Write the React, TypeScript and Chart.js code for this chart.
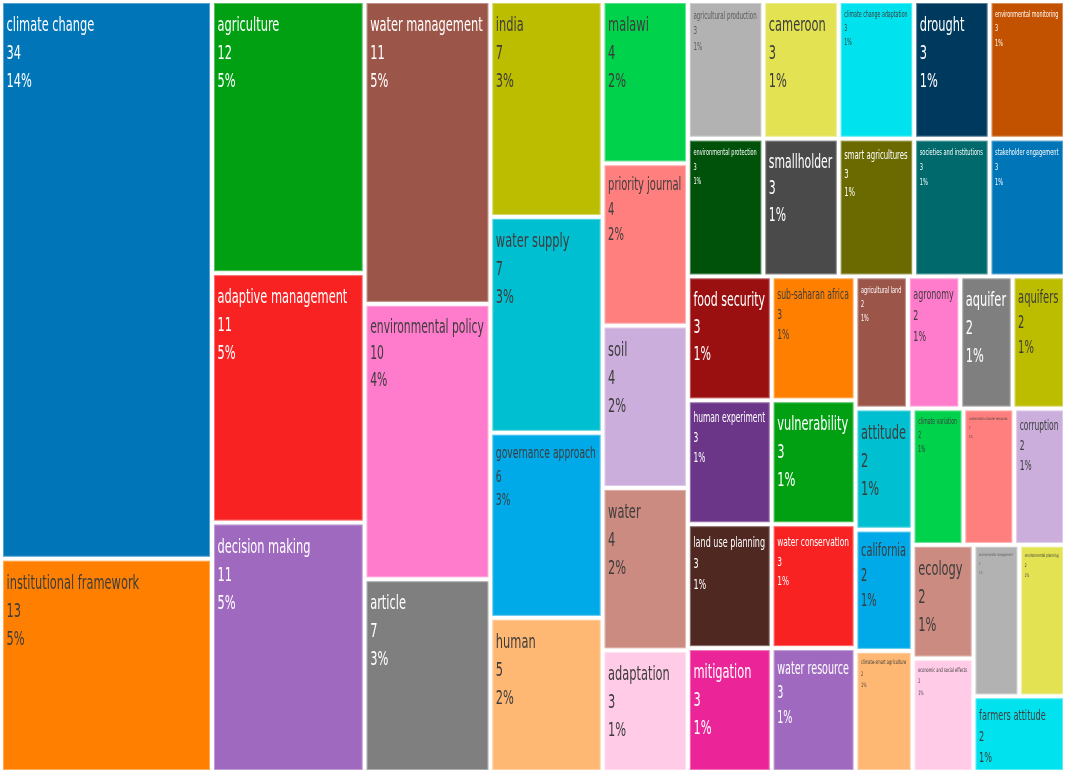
import React, { useEffect, useRef } from "react";
import { Chart, registerables } from "chart.js";

Chart.register(...registerables);

// Keywords, sorted by frequency (desc) then alphabetically
const labels: string[] = [
  "climate change",
  "institutional framework",
  "agriculture",
  "adaptive management",
  "decision making",
  "water management",
  "environmental policy",
  "article",
  "india",
  "water supply",
  "governance approach",
  "human",
  "malawi",
  "priority journal",
  "soil",
  "water",
  "adaptation",
  "agricultural production",
  "cameroon",
  "climate change adaptation",
  "drought",
  "environmental monitoring",
  "environmental protection",
  "food security",
  "human experiment",
  "land use planning",
  "mitigation",
  "smallholder",
  "smart agricultures",
  "societies and institutions",
  "stakeholder engagement",
  "sub-saharan africa",
  "vulnerability",
  "water conservation",
  "water resource",
  "agricultural land",
  "agronomy",
  "aquifer",
  "aquifers",
  "attitude",
  "california",
  "climate-smart agriculture",
  "climate variation",
  "conservation of water resources",
  "corruption",
  "ecology",
  "economic and social effects",
  "environmental management",
  "environmental planning",
  "farmers attitude",
];

const values: number[] = [
  34, 13, 12, 11, 11, 11, 10, 7, 7, 7, 6, 5, 4, 4, 4, 4,
  3, 3, 3, 3, 3, 3, 3, 3, 3, 3, 3, 3, 3, 3, 3, 3, 3, 3, 3,
  2, 2, 2, 2, 2, 2, 2, 2, 2, 2, 2, 2, 2, 2, 2,
];

// Tiling: strips cut from the remaining rectangle ("col" = cut from left, stacked top-down;
// "row" = cut from top, laid left-right). Item indices refer to the arrays above.
const stripDirs: ("col" | "row")[] = [
  "col", "col", "col", "col", "col", "row", "row", "col", "col", "row", "col", "row", "col", "row", "row",
];
const stripItems: number[][] = [
  [0, 1],
  [2, 3, 4],
  [5, 6, 7],
  [8, 9, 10, 11],
  [12, 13, 14, 15, 16],
  [17, 18, 19, 20, 21],
  [22, 27, 28, 29, 30],
  [23, 24, 25, 26],
  [31, 32, 33, 34],
  [35, 36, 37, 38],
  [39, 40, 41],
  [42, 43, 44],
  [45, 46],
  [47, 48],
  [49],
];

// Styles
const palette: string[] = [
  "#0075b8", "#ff8000", "#00a012", "#f92222", "#a069c0", "#9c5549", "#ff7bcb", "#7f7f7f", "#bdbd00", "#00bfd0",
  "#00a9e8", "#ffb873", "#00d24c", "#ff7f7f", "#cbaedc", "#cc8b80", "#ffcbe7", "#b2b2b2", "#e2e252", "#00e3ef",
  "#00395e", "#c25200", "#00520b", "#9a0f10", "#6c3688", "#502822", "#eb2597", "#4a4a4a", "#6a6a00", "#00696c",
];
const paletteLightText: boolean[] = [
  true, false, true, true, true, true, false, true, false, false,
  false, false, false, false, false, false, false, false, false, false,
  true, true, true, true, true, true, true, true, true, true,
];

type Cell = { i: number; x0: number; y0: number; x1: number; y1: number };

function computeCells(): Cell[] {
  const cells: Cell[] = [];
  let remaining = values.reduce((a, b) => a + b, 0);
  let x0 = 0, y0 = 0;
  const x1 = 1, y1 = 1;
  stripItems.forEach((items, s) => {
    const sum = items.reduce((a, k) => a + values[k], 0);
    const frac = sum / remaining;
    if (stripDirs[s] === "col") {
      const w = (x1 - x0) * frac;
      let y = y0;
      items.forEach((k) => {
        const h = (y1 - y0) * (values[k] / sum);
        cells.push({ i: k, x0, y0: y, x1: x0 + w, y1: y + h });
        y += h;
      });
      x0 += w;
    } else {
      const h = (y1 - y0) * frac;
      let x = x0;
      items.forEach((k) => {
        const w = (x1 - x0) * (values[k] / sum);
        cells.push({ i: k, x0: x, y0, x1: x + w, y1: y0 + h });
        x += w;
      });
      y0 += h;
    }
    remaining -= sum;
  });
  return cells;
}

export default function App() {
  const ref = useRef<HTMLCanvasElement | null>(null);

  useEffect(() => {
    if (!ref.current) return;
    const cells = computeCells();
    const total = values.reduce((a, b) => a + b, 0);

    const treemapPlugin = {
      id: "treemapCells",
      afterDatasetsDraw(chart: any) {
        const { ctx } = chart;
        const xs = chart.scales.x;
        const ys = chart.scales.y;
        const gap = 2;
        const sx = 0.57;
        const family = '"DejaVu Sans", Verdana, sans-serif';
        cells.forEach((c) => {
          const px0 = xs.getPixelForValue(c.x0);
          const px1 = xs.getPixelForValue(c.x1);
          const py0 = ys.getPixelForValue(c.y0);
          const py1 = ys.getPixelForValue(c.y1);
          const left = px0 + gap;
          const top = py0 + gap;
          const w = px1 - px0 - 2 * gap;
          const h = py1 - py0 - 2 * gap;
          const pi = c.i % palette.length;
          ctx.save();
          ctx.fillStyle = palette[pi];
          ctx.fillRect(left, top, w, h);
          ctx.strokeStyle = "rgba(255,255,255,0.35)";
          ctx.lineWidth = 1;
          ctx.strokeRect(left + 0.5, top + 0.5, w - 1, h - 1);

          const label = labels[c.i];
          ctx.font = `20px ${family}`;
          const lw = ctx.measureText(label).width * sx;
          let fs = Math.min(20, (20 * (w - 8)) / lw);
          fs = Math.min(fs, ((h - 8) / 3 - 4) / 1.2);
          fs = Math.max(fs, 3);
          const lines = [label, String(values[c.i]), `${Math.round((values[c.i] / total) * 100)}%`];
          ctx.beginPath();
          ctx.rect(left, top, w, h);
          ctx.clip();
          ctx.fillStyle = paletteLightText[pi] ? "#ffffff" : c.i === 17 || c.i === 47 ? "#5a5a5a" : "#3c3c3c";
          ctx.font = `${fs}px ${family}`;
          ctx.textBaseline = "alphabetic";
          const step = 1.2 * fs + 4;
          lines.forEach((t, k) => {
            ctx.save();
            ctx.translate(left + 3.5, top + (k + 1) * step);
            ctx.scale(sx, 1);
            ctx.fillText(t, 0, 0);
            ctx.restore();
          });
          ctx.restore();
        });
      },
    };

    const chart = new Chart(ref.current, {
      type: "scatter",
      data: {
        datasets: [
          {
            data: cells.map((c) => ({ x: (c.x0 + c.x1) / 2, y: (c.y0 + c.y1) / 2 })),
            pointRadius: 0,
            pointHoverRadius: 0,
          },
        ],
      },
      options: {
        animation: false,
        responsive: false,
        maintainAspectRatio: false,
        layout: { padding: { left: 1, top: 1, right: 0, bottom: 0 } },
        scales: {
          x: { type: "linear", min: 0, max: 1, display: false },
          y: { type: "linear", min: 0, max: 1, reverse: true, display: false },
        },
        plugins: { legend: { display: false }, tooltip: { enabled: false } },
        events: [],
      },
      plugins: [treemapPlugin],
    });
    return () => chart.destroy();
  }, []);

  return (
    <div style={{ position: "fixed", left: 0, top: 0, width: 1065, height: 772, background: "#ffffff" }}>
      <canvas ref={ref} width={1065} height={772} style={{ width: 1065, height: 772 }} />
    </div>
  );
}
